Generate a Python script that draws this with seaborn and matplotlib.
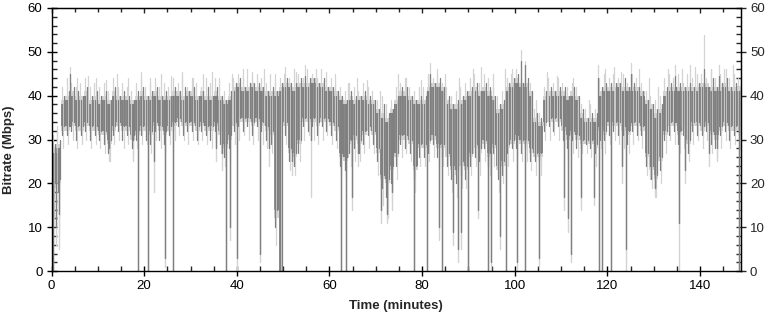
import numpy as np
import pandas as pd
import matplotlib
matplotlib.use("Agg")
import matplotlib.pyplot as plt
import seaborn as sns
from matplotlib.ticker import MultipleLocator

# per-minute bitrate band (Mbps)
minutes = np.arange(149)

dark_lo = [20, 21, 33, 33, 34, 33, 33, 34, 33, 33,
           32, 32, 30, 33, 34, 33, 33, 31, 32, 33,
           33, 32, 34, 33, 32, 33, 34, 35, 34, 34,
           34, 33, 34, 33, 33, 34, 32, 29, 31, 34,
           35, 35, 35, 34, 35, 34, 33, 32, 14, 0,
           34, 28, 27, 30, 35, 35, 35, 34, 35, 35,
           34, 33, 27, 26, 30, 31, 30, 32, 33, 32,
           28, 22, 21, 24, 27, 31, 31, 30, 24, 29,
           29, 30, 31, 29, 29, 27, 24, 23, 25, 24,
           27, 29, 28, 30, 27, 29, 24, 25, 29, 30,
           31, 30, 30, 28, 27, 27, 34, 35, 35, 35,
           33, 31, 32, 31, 30, 30, 30, 29, 33, 32,
           34, 34, 34, 33, 32, 34, 34, 33, 27, 24,
           22, 26, 32, 34, 34, 32, 33, 30, 34, 34,
           33, 34, 32, 31, 33, 34, 33, 33, 33]
dark_hi = [27, 28, 38, 39, 40, 39, 39, 40, 38, 39,
           38, 39, 38, 40, 39, 39, 39, 38, 39, 40,
           39, 39, 40, 39, 39, 39, 40, 40, 39, 40,
           40, 39, 40, 39, 39, 40, 39, 38, 39, 41,
           42, 41, 41, 42, 41, 41, 40, 40, 40, 41,
           42, 42, 41, 42, 42, 42, 43, 42, 42, 41,
           41, 40, 39, 38, 39, 38, 39, 39, 38, 38,
           36, 35, 34, 36, 38, 40, 40, 39, 38, 38,
           38, 41, 42, 42, 41, 38, 37, 37, 38, 39,
           40, 41, 40, 41, 40, 39, 36, 37, 41, 42,
           43, 42, 42, 40, 34, 33, 39, 40, 40, 40,
           40, 39, 40, 39, 35, 34, 34, 34, 40, 41,
           41, 41, 42, 41, 41, 41, 41, 40, 38, 37,
           35, 36, 40, 41, 41, 41, 41, 41, 41, 41,
           42, 42, 41, 41, 41, 42, 41, 41, 41]
light_lo = [19, 20, 32, 32, 33, 32, 32, 33, 32, 32,
            31, 31, 29, 32, 33, 32, 32, 30, 31, 32,
            32, 31, 33, 32, 31, 32, 33, 34, 33, 33,
            33, 32, 33, 32, 32, 33, 31, 28, 30, 33,
            34, 34, 34, 33, 34, 33, 32, 31, 12, 0,
            33, 27, 26, 29, 34, 34, 34, 33, 34, 34,
            33, 32, 26, 25, 29, 30, 29, 31, 32, 31,
            27, 21, 20, 23, 26, 30, 30, 29, 23, 28,
            28, 29, 30, 28, 28, 26, 23, 22, 24, 23,
            26, 28, 27, 29, 26, 28, 23, 24, 28, 29,
            30, 29, 29, 27, 26, 26, 33, 34, 34, 34,
            32, 30, 31, 30, 29, 29, 29, 28, 32, 31,
            33, 33, 33, 32, 31, 33, 33, 32, 26, 23,
            21, 25, 31, 33, 33, 31, 32, 29, 33, 33,
            32, 33, 31, 30, 32, 33, 32, 32, 32]
light_hi = [28, 29, 39, 40, 41, 40, 40, 41, 39, 40,
            39, 40, 39, 41, 40, 40, 40, 39, 40, 41,
            40, 40, 41, 40, 40, 40, 41, 41, 40, 41,
            41, 40, 41, 40, 40, 41, 40, 39, 40, 42,
            43, 42, 42, 43, 42, 42, 41, 41, 41, 42,
            43, 43, 42, 43, 43, 43, 44, 43, 43, 42,
            42, 41, 40, 39, 40, 39, 40, 40, 39, 39,
            37, 36, 35, 37, 39, 41, 41, 40, 39, 39,
            39, 42, 43, 43, 42, 39, 38, 38, 39, 40,
            41, 42, 41, 42, 41, 40, 37, 38, 42, 43,
            44, 43, 43, 41, 35, 34, 40, 41, 41, 41,
            41, 40, 41, 40, 36, 35, 35, 35, 41, 42,
            42, 42, 43, 42, 42, 42, 42, 41, 39, 38,
            36, 37, 41, 42, 42, 42, 42, 42, 42, 42,
            43, 43, 42, 42, 42, 43, 42, 42, 42]

# in-minute spike tips (Mbps)
light_up = [31, 32, 42, 44, 43, 42, 43, 44, 42, 43,
            42, 43, 41, 44, 42, 43, 42, 41, 43, 44,
            42, 43, 44, 42, 43, 42, 44, 43, 44, 42,
            44, 43, 42, 44, 43, 44, 42, 41, 43, 44,
            45, 44, 46, 44, 45, 44, 43, 45, 43, 44,
            45, 44, 46, 45, 44, 46, 45, 44, 46, 44,
            44, 43, 42, 41, 43, 42, 41, 43, 42, 41,
            39, 40, 38, 39, 42, 43, 44, 42, 41, 42,
            42, 45, 44, 45, 43, 42, 40, 41, 42, 43,
            44, 45, 43, 45, 44, 42, 40, 41, 44, 45,
            46, 44, 45, 43, 37, 36, 42, 44, 43, 44,
            43, 42, 43, 42, 38, 37, 38, 37, 44, 45,
            44, 45, 44, 45, 43, 45, 44, 43, 41, 40,
            39, 40, 44, 45, 44, 45, 43, 45, 44, 45,
            45, 44, 46, 44, 45, 46, 44, 45, 44]
dark_up = [29, 30, 40, 41, 42, 41, 40, 42, 40, 41,
           40, 41, 39, 42, 40, 41, 40, 39, 41, 42,
           40, 41, 42, 40, 41, 40, 42, 41, 42, 41,
           42, 40, 41, 42, 40, 42, 40, 39, 41, 43,
           44, 42, 43, 43, 43, 42, 41, 42, 41, 43,
           44, 43, 43, 44, 42, 44, 44, 43, 44, 42,
           42, 41, 40, 39, 41, 40, 40, 41, 40, 39,
           37, 38, 36, 37, 40, 42, 42, 40, 39, 40,
           40, 43, 43, 44, 42, 40, 38, 39, 40, 41,
           42, 43, 41, 43, 42, 40, 38, 39, 43, 44,
           45, 43, 44, 41, 36, 35, 41, 42, 41, 42,
           42, 40, 42, 40, 37, 35, 36, 36, 42, 43,
           43, 43, 43, 44, 42, 43, 42, 41, 39, 38,
           37, 38, 42, 43, 42, 43, 42, 43, 42, 43,
           43, 42, 44, 42, 43, 44, 42, 43, 42]
dark_dn = [17, 18, 31, 31, 32, 30, 31, 32, 30, 31,
           30, 29, 27, 31, 32, 30, 31, 28, 30, 31,
           30, 29, 32, 30, 29, 31, 32, 33, 31, 32,
           32, 30, 32, 31, 30, 32, 29, 26, 28, 32,
           33, 32, 33, 31, 33, 32, 30, 29, 10, 0,
           31, 25, 24, 27, 33, 32, 33, 31, 33, 32,
           31, 30, 24, 23, 27, 28, 27, 29, 31, 29,
           25, 19, 17, 20, 24, 29, 28, 27, 21, 26,
           26, 27, 29, 26, 26, 24, 21, 20, 22, 21,
           24, 26, 25, 28, 24, 27, 21, 22, 27, 28,
           28, 27, 28, 25, 25, 25, 32, 33, 32, 33,
           30, 28, 30, 28, 28, 29, 28, 27, 30, 30,
           31, 32, 31, 31, 29, 32, 31, 31, 24, 21,
           19, 23, 30, 31, 32, 29, 31, 27, 32, 31,
           31, 32, 29, 28, 31, 32, 30, 31, 31]
light_dn = [12, 8, 28, 29, 30, 28, 29, 30, 28, 29,
            28, 27, 25, 29, 30, 28, 29, 26, 28, 29,
            29, 27, 30, 28, 27, 29, 30, 31, 30, 29,
            30, 29, 30, 29, 28, 30, 27, 24, 25, 29,
            30, 31, 30, 29, 30, 29, 28, 27, 6, 0,
            29, 23, 22, 25, 30, 31, 30, 29, 30, 31,
            29, 28, 22, 21, 24, 25, 25, 27, 28, 27,
            22, 15, 12, 16, 21, 26, 27, 25, 18, 24,
            24, 25, 26, 24, 24, 22, 18, 17, 19, 19,
            22, 24, 22, 25, 22, 24, 18, 20, 24, 25,
            26, 25, 25, 23, 22, 22, 30, 30, 31, 30,
            28, 25, 27, 26, 27, 27, 26, 24, 28, 27,
            29, 30, 29, 28, 27, 29, 30, 28, 22, 19,
            17, 20, 27, 30, 29, 27, 28, 25, 29, 30,
            28, 30, 27, 26, 28, 30, 28, 29, 28]

# short drops (time in minutes, dark minimum, light minimum)
dip_t = [0.3, 0.9, 1.6, 12.4, 17.6, 18.7, 20.8, 22.1, 24.6, 26.2,
         35.5, 36.7, 37.6, 38.6, 40.1, 45.1, 47.0, 52.0, 56.1, 62.4,
         63.5, 64.8, 66.2, 71.2, 72.4, 73.5, 78.2, 81.0, 83.7, 84.2,
         86.6, 87.7, 88.4, 90.0, 92.0, 94.2, 94.9, 96.8, 98.0, 100.4,
         102.3, 105.2, 110.7, 111.4, 112.1, 114.2, 117.2, 118.2, 118.9, 120.7,
         123.2, 123.9, 129.2, 130.2, 135.4, 136.7, 141.9, 143.7, 148.4]
dip_dark = [0, 10, 13, 28, 30, 0, 0, 25, 3, 0,
            28, 27, 0, 10, 3, 4, 28, 25, 30, 0,
            0, 17, 27, 14, 13, 18, 0, 0, 10, 0,
            9, 5, 9, 0, 14, 0, 2, 8, 0, 2,
            0, 3, 17, 12, 4, 17, 17, 0, 0, 0,
            24, 5, 24, 19, 11, 23, 27, 28, 0]
dip_light = [0, 6, 5, 25, 25, 0, 0, 18, 1, 0,
             25, 23, 0, 7, 0, 2, 24, 22, 17, 0,
             0, 14, 24, 11, 11, 14, 0, 0, 7, 0,
             6, 2, 5, 0, 12, 0, 0, 5, 0, 0,
             0, 1, 14, 9, 2, 14, 15, 0, 0, 0,
             20, 0, 21, 17, 0, 20, 24, 25, 0]

# tall peaks (time in minutes, light maximum)
peak_t = [1.2, 3.9, 5.5, 7.8, 9.5, 11.8, 14.2, 16.5, 19.3, 21.2,
          23.6, 25.8, 28.2, 30.5, 32.8, 34.6, 36.2, 39.0, 41.3, 43.2,
          45.8, 48.2, 50.5, 52.8, 54.7, 57.0, 59.3, 61.2, 63.9, 66.0,
          68.2, 70.8, 74.8, 76.5, 79.7, 81.8, 83.2, 85.0, 88.0, 90.9,
          92.8, 95.4, 97.9, 99.5, 101.3, 102.3, 104.5, 107.0, 109.0, 112.5,
          116.0, 118.0, 119.5, 121.4, 123.0, 125.0, 126.8, 129.0, 131.0, 133.0,
          134.5, 136.0, 137.8, 139.0, 140.8, 142.4, 144.0, 145.5, 147.2]
peak_hi = [33, 46.5, 44, 44.5, 44, 43.5, 45, 44, 45.5, 44,
           45, 44.5, 45.5, 44, 45, 45.5, 44, 45, 46, 45.5,
           46, 45, 46.5, 45.5, 47, 46, 45.5, 45, 43, 44,
           43.5, 41, 45, 44, 43.5, 47.5, 46, 45, 44, 46,
           46.5, 45, 46, 46, 50.5, 48, 39, 45.5, 44.5, 44,
           39, 47, 46, 46.5, 45.5, 47.5, 46, 44, 42, 46,
           47, 46, 47, 46.5, 53.8, 46, 47, 46, 47]
dark_peak_t = [3.9, 54.7, 81.8, 101.3, 102.3, 118.0, 125.0, 134.5, 140.8, 144.0]
dark_peak_hi = [45, 44.5, 45, 48, 47, 44, 45, 44.5, 46, 44.5]

LIGHT = "#d3d3d3"
DARK = "#808080"


def segments(ts, lo, hi):
    rows = []
    for i, (t, a, b) in enumerate(zip(ts, lo, hi)):
        rows.append({"t": t, "v": a, "id": i})
        rows.append({"t": t, "v": b, "id": i})
    return pd.DataFrame(rows)


def spikes(ax, ts, lo, hi, color, lw=0.9):
    sns.lineplot(data=segments(ts, lo, hi), x="t", y="v", units="id",
                 estimator=None, sort=False, color=color, lw=lw, ax=ax)


def base_at(ts, arr):
    return [arr[min(int(t), len(arr) - 1)] for t in ts]


sns.set_style("ticks")
plt.rcParams["font.family"] = ["Liberation Sans", "DejaVu Sans"]

fig = plt.figure(figsize=(7.7, 3.2), dpi=100)
ax = fig.add_axes([0.0669, 0.153, 0.8953, 0.822])

edges = np.append(minutes, minutes[-1] + 1)
ext = lambda a: np.append(a, a[-1])

# light layer (extremes)
ax.fill_between(edges, ext(light_lo), ext(light_hi), step="post", color=LIGHT, lw=0)
spikes(ax, minutes + 0.25, dark_lo, light_up, LIGHT)
spikes(ax, minutes + 0.55, light_dn, dark_hi, LIGHT)
spikes(ax, dip_t, dip_light, base_at(dip_t, dark_hi), LIGHT, lw=1.0)
spikes(ax, peak_t, base_at(peak_t, dark_lo), peak_hi, LIGHT)

# dark layer (typical range)
ax.fill_between(edges, ext(dark_lo), ext(dark_hi), step="post", color=DARK, lw=0)
spikes(ax, minutes + 0.75, dark_lo, dark_up, DARK)
spikes(ax, minutes + 0.3, dark_dn, dark_hi, DARK)
spikes(ax, dip_t, dip_dark, base_at(dip_t, dark_hi), DARK, lw=1.0)
spikes(ax, dark_peak_t, base_at(dark_peak_t, dark_lo), dark_peak_hi, DARK)

ax.set_xlim(0, 148.8)
ax.set_ylim(0, 60)
ax.xaxis.set_major_locator(MultipleLocator(20))
ax.xaxis.set_minor_locator(MultipleLocator(5))
ax.yaxis.set_major_locator(MultipleLocator(10))
ax.yaxis.set_minor_locator(MultipleLocator(2))

for s in ax.spines.values():
    s.set_visible(True)
    s.set_color("black")
    s.set_linewidth(1.0)

ax.tick_params(which="major", direction="inout", length=7, width=1, pad=3,
               labelsize=9.5, colors="black", top=False, right=False)
ax.tick_params(which="minor", direction="in", length=3.5, width=1,
               top=False, right=False)

top = ax.secondary_xaxis("top")
top.xaxis.set_major_locator(MultipleLocator(20))
top.xaxis.set_minor_locator(MultipleLocator(5))
top.tick_params(which="major", direction="in", length=3.5, width=1, labeltop=False)
top.tick_params(which="minor", direction="in", length=3, width=1)

right = ax.secondary_yaxis("right")
right.yaxis.set_major_locator(MultipleLocator(10))
right.yaxis.set_minor_locator(MultipleLocator(2))
right.tick_params(which="major", direction="inout", length=7, width=1, pad=3,
                  labelsize=9.5)
right.tick_params(which="minor", direction="in", length=3.5, width=1)

ax.set_xlabel("Time (minutes)", fontweight="bold", fontsize=9.5, labelpad=6)
ax.set_ylabel("Bitrate (Mbps)", fontweight="bold", fontsize=9.5)
ax.yaxis.set_label_coords(-0.053, 0.46)

fig.savefig("out.png", dpi=100)
